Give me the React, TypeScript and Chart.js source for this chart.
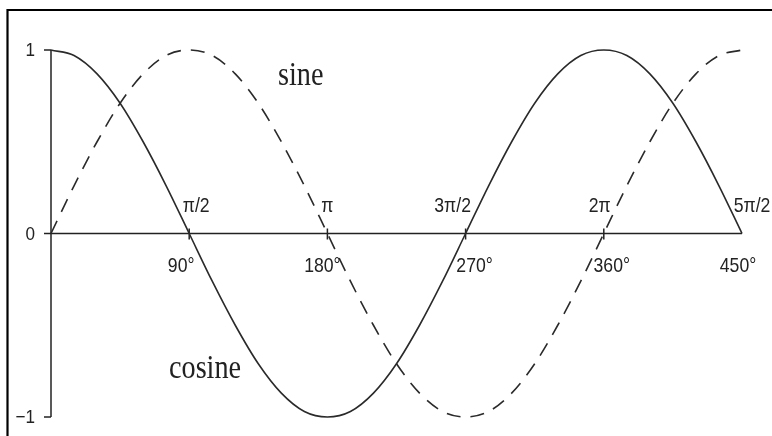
import React, { useEffect, useRef } from "react";
import { Chart, registerables } from "chart.js";

Chart.register(...registerables);

// Data (angles in degrees)
const degrees = [0, 15, 30, 45, 60, 75, 90, 105, 120, 135, 150, 165, 180, 195, 210, 225, 240, 255, 270, 285, 300, 315, 330, 345, 360, 375, 390, 405, 420, 435, 450];
const sineValues = [0, 0.26, 0.5, 0.71, 0.87, 0.97, 1, 0.97, 0.87, 0.71, 0.5, 0.26, 0, -0.26, -0.5, -0.71, -0.87, -0.97, -1, -0.97, -0.87, -0.71, -0.5, -0.26, 0, 0.26, 0.5, 0.71, 0.87, 0.97, 1];
const cosineValues = [1, 0.97, 0.87, 0.71, 0.5, 0.26, 0, -0.26, -0.5, -0.71, -0.87, -0.97, -1, -0.97, -0.87, -0.71, -0.5, -0.26, 0, 0.26, 0.5, 0.71, 0.87, 0.97, 1, 0.97, 0.87, 0.71, 0.5, 0.26, 0];

const xTickValues = [90, 180, 270, 360, 450];
const radianLabels = ["π/2", "π", "3π/2", "2π", "5π/2"];
const degreeLabels = ["90°", "180°", "270°", "360°", "450°"];
const yTickValues = [1, 0, -1];
const yTickLabels = ["1", "0", "−1"];

// Layout offsets (pixels) for labels relative to ticks
const radianOffsets = [7, 0, -13, -4, 10];
const degreeOffsets = [-8, -5, 9, 8, -4];

const INK = "#222";
const SANS = "'Liberation Sans', Arial, sans-serif";
const SERIF = "'Liberation Serif', 'Times New Roman', serif";

function drawScaledText(
  ctx: CanvasRenderingContext2D,
  text: string,
  x: number,
  y: number,
  font: string,
  sx: number,
  align: CanvasTextAlign,
  baseline: CanvasTextBaseline
) {
  ctx.save();
  ctx.translate(x, y);
  ctx.scale(sx, 1);
  ctx.font = font;
  ctx.fillStyle = INK;
  ctx.textAlign = align;
  ctx.textBaseline = baseline;
  ctx.fillText(text, 0, 0);
  ctx.restore();
}

const decorPlugin = {
  id: "decor",
  beforeDatasetsDraw(chart: any) {
    const ctx: CanvasRenderingContext2D = chart.ctx;
    const xs = chart.scales.x;
    const ys = chart.scales.y;
    ctx.save();
    // frame (only top and left visible)
    ctx.strokeStyle = "#000";
    ctx.lineWidth = 2.2;
    ctx.beginPath();
    ctx.moveTo(7.5, 436);
    ctx.lineTo(7.5, 10);
    ctx.lineTo(772, 10);
    ctx.stroke();

    ctx.strokeStyle = INK;
    ctx.lineWidth = 1.5;
    const x0 = xs.getPixelForValue(0);
    const y0 = ys.getPixelForValue(0);
    // y axis
    ctx.beginPath();
    ctx.moveTo(x0, ys.getPixelForValue(1));
    ctx.lineTo(x0, ys.getPixelForValue(-1));
    ctx.stroke();
    // y ticks
    yTickValues.forEach((v, i) => {
      const py = ys.getPixelForValue(v);
      ctx.beginPath();
      ctx.moveTo(x0 - 7, py);
      ctx.lineTo(x0, py);
      ctx.stroke();
      drawScaledText(ctx, yTickLabels[i], x0 - 16, py + 1, `19px ${SANS}`, 0.9, "right", "middle");
    });
    // x axis
    ctx.beginPath();
    ctx.moveTo(x0, y0);
    ctx.lineTo(xs.getPixelForValue(450), y0);
    ctx.stroke();
    // x ticks
    xTickValues.forEach((v) => {
      if (v >= 450) return;
      const px = xs.getPixelForValue(v);
      ctx.beginPath();
      ctx.moveTo(px, y0 - 5);
      ctx.lineTo(px, y0 + 6);
      ctx.stroke();
    });
    ctx.restore();
  },
  afterDatasetsDraw(chart: any) {
    const ctx: CanvasRenderingContext2D = chart.ctx;
    const xs = chart.scales.x;
    const ys = chart.scales.y;
    const y0 = ys.getPixelForValue(0);
    xTickValues.forEach((v, i) => {
      const px = xs.getPixelForValue(v);
      drawScaledText(ctx, radianLabels[i], px + radianOffsets[i], y0 - 22, `21px ${SANS}`, 0.84, "center", "alphabetic");
      drawScaledText(ctx, degreeLabels[i], px + degreeOffsets[i], y0 + 38, `21px ${SANS}`, 0.84, "center", "alphabetic");
    });
    drawScaledText(ctx, "sine", 278, 85, `34px ${SERIF}`, 0.83, "left", "alphabetic");
    drawScaledText(ctx, "cosine", 169, 378, `34px ${SERIF}`, 0.83, "left", "alphabetic");
  },
};

export default function App() {
  const canvasRef = useRef<HTMLCanvasElement | null>(null);

  useEffect(() => {
    if (!canvasRef.current) return;
    const sinePoints = degrees.map((d, i) => ({ x: d, y: sineValues[i] }));
    const cosinePoints = degrees.map((d, i) => ({ x: d, y: cosineValues[i] }));
    const chart = new Chart(canvasRef.current, {
      type: "line",
      data: {
        datasets: [
          {
            label: "sine",
            data: sinePoints,
            borderColor: "#2a2a2a",
            borderWidth: 1.6,
            borderDash: [14, 10],
            pointRadius: 0,
            cubicInterpolationMode: "monotone",
            fill: false,
          },
          {
            label: "cosine",
            data: cosinePoints,
            borderColor: "#2a2a2a",
            borderWidth: 1.6,
            pointRadius: 0,
            cubicInterpolationMode: "monotone",
            fill: false,
          },
        ],
      },
      options: {
        responsive: false,
        animation: false,
        events: [],
        clip: false as any,
        layout: { padding: { left: 51, right: 30, top: 50, bottom: 19 } },
        plugins: { legend: { display: false }, tooltip: { enabled: false }, title: { display: false } },
        scales: {
          x: { type: "linear", min: 0, max: 450, display: false },
          y: { type: "linear", min: -1, max: 1, display: false },
        },
      },
      plugins: [decorPlugin],
    });
    return () => chart.destroy();
  }, []);

  return (
    <div style={{ position: "absolute", left: 0, top: 0, width: 772, height: 436, background: "#fff" }}>
      <canvas ref={canvasRef} width={772} height={436} style={{ display: "block" }} />
    </div>
  );
}
